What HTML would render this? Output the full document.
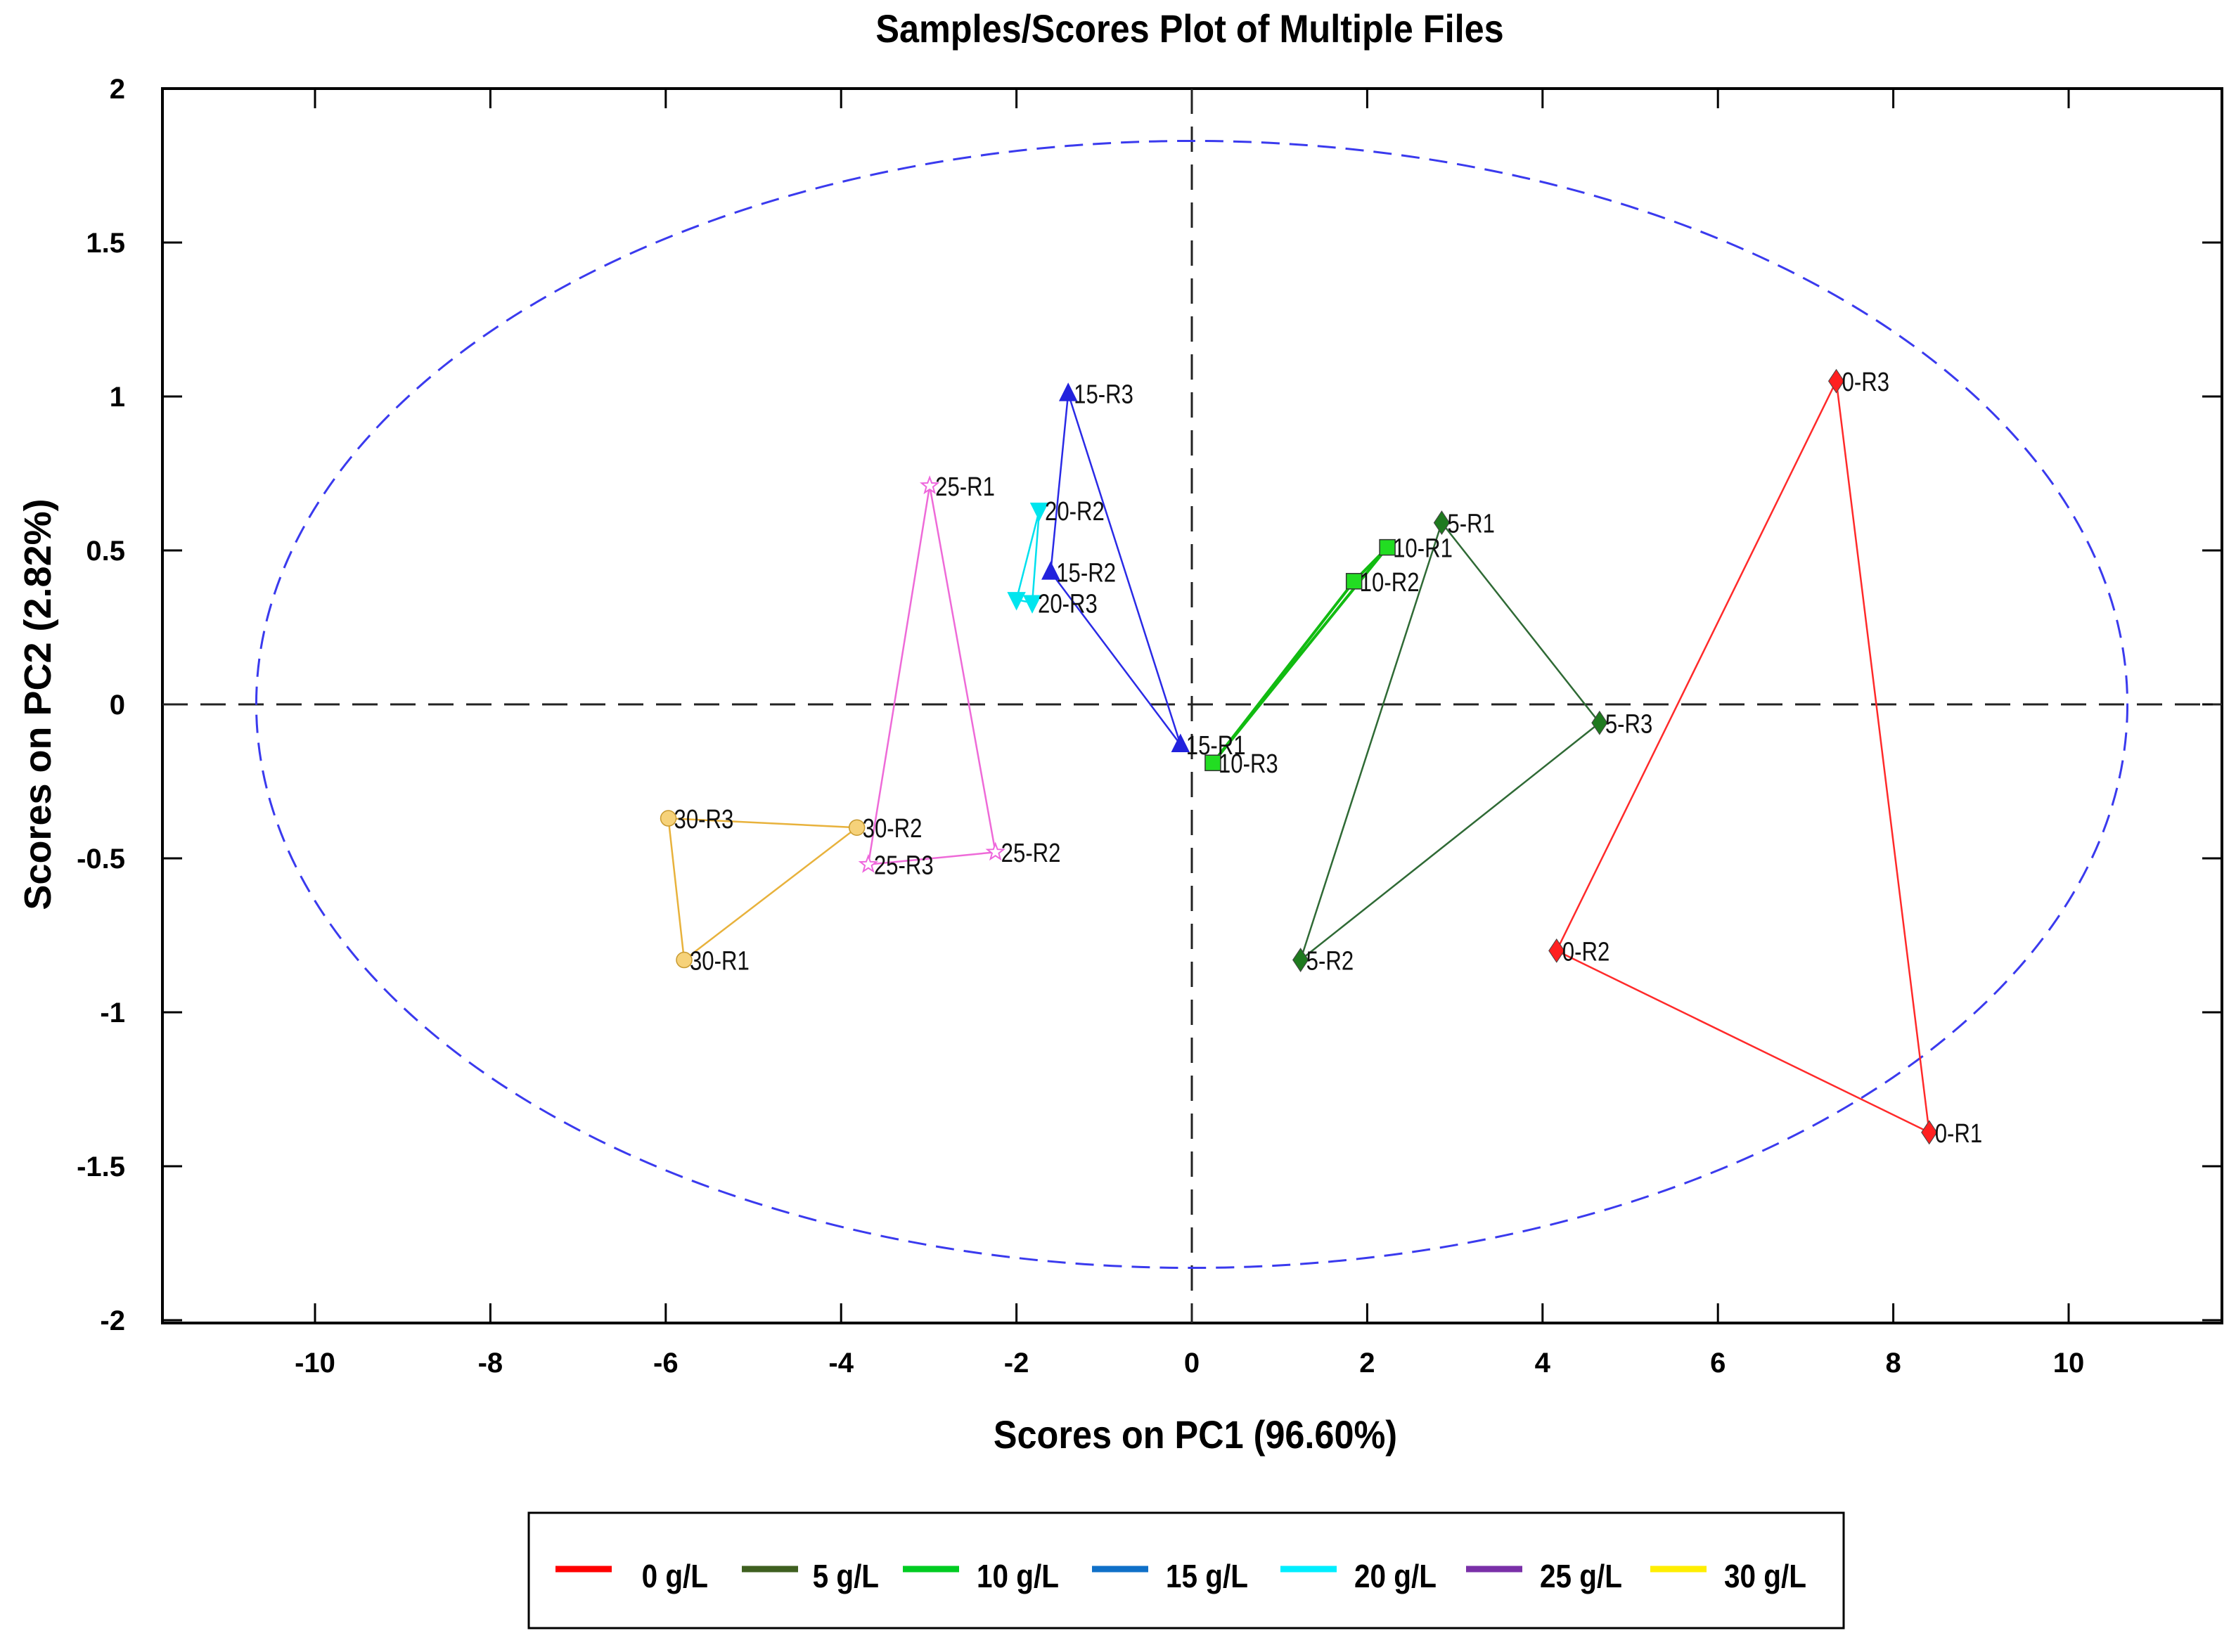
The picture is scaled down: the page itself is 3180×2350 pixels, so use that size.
<!DOCTYPE html>
<html><head><meta charset="utf-8"><style>
html,body{margin:0;padding:0;background:#fff}
svg{display:block}
text{font-family:"Liberation Sans",sans-serif}
</style></head><body>
<svg id="chart" width="3180" height="2350" viewBox="0 0 3180 2350" xmlns="http://www.w3.org/2000/svg">
<text x="1692" y="60" text-anchor="middle" font-size="56" font-weight="bold" transform="translate(1692,0) scale(0.9,1) translate(-1692,0)">Samples/Scores Plot of Multiple Files</text>
<text x="1700" y="2060" text-anchor="middle" font-size="56" font-weight="bold" transform="translate(1700,0) scale(0.9,1) translate(-1700,0)">Scores on PC1 (96.60%)</text>
<text x="0" y="0" text-anchor="middle" font-size="54" font-weight="bold" transform="translate(72,1002) rotate(-90)">Scores on PC2 (2.82%)</text>
<g id="plot"></g>
<rect x="752" y="2152" width="1870" height="164" fill="none" stroke="#000" stroke-width="3"/>
<g id="legend"></g>
</svg>
<script>
const groups = ["0 g/L","5 g/L","10 g/L","15 g/L","20 g/L","25 g/L","30 g/L"];
const groupKeys = ["0","5","10","15","20","25","30"];
const pc1 = [
 [8.41,4.16,7.35],
 [2.85,1.24,4.65],
 [2.23,1.85,0.24],
 [-0.13,-1.61,-1.41],
 [-2.0,-1.74,-1.82],
 [-2.99,-2.24,-3.69],
 [-5.79,-3.82,-5.97]
];
const pc2 = [
 [-1.39,-0.80,1.05],
 [0.59,-0.83,-0.06],
 [0.51,0.40,-0.19],
 [-0.13,0.43,1.01],
 [0.34,0.63,0.33],
 [0.71,-0.48,-0.52],
 [-0.83,-0.40,-0.37]
];
const xTicks = [-10,-8,-6,-4,-2,0,2,4,6,8,10];
const yTicks = [2,1.5,1,0.5,0,-0.5,-1,-1.5,-2];
const ellipseRx = 10.67, ellipseRy = 1.83;

const lineColors = ["#ff2a2a","#2f6a35","#11bb11","#2a2ae6","#00e0ee","#ee6ad8","#e8b23c"];
const markColors = ["#ff2020","#1f7a1f","#22dd22","#2222dd","#00e5ee","#ee66dd","#f6d27a"];
const legendColors = ["#ff0000","#3f6020","#00cc22","#1070c8","#00eeff","#7a30a8","#ffee00"];
const markers = ["diamond","diamond","square","tri","tridown","star","circle"];

const L=231,R=3160,T=126,B=1882,X0=1695,KX=124.7,Y0=1002,KY=438;
const sx=v=>X0+v*KX, sy=v=>Y0-v*KY;
const NS="http://www.w3.org/2000/svg";
const plot=document.getElementById('plot');
function mk(tag,attrs,parent){const e=document.createElementNS(NS,tag);for(const k in attrs)e.setAttribute(k,attrs[k]);(parent||plot).appendChild(e);return e;}

let fr=mk('rect',{x:L,y:T,width:R-L,height:B-T,fill:'none',stroke:'#000','stroke-width':4});


xTicks.forEach(t=>{
  mk('line',{x1:sx(t),x2:sx(t),y1:T,y2:T+28,stroke:'#000','stroke-width':3});
  mk('line',{x1:sx(t),x2:sx(t),y1:B,y2:B-28,stroke:'#000','stroke-width':3});
  let tx=mk('text',{x:sx(t),y:1952,'text-anchor':'middle','font-size':40,'font-weight':'bold'});
  tx.textContent=t;
  
  
});
yTicks.forEach(t=>{
  mk('line',{x1:L,x2:L+28,y1:sy(t),y2:sy(t),stroke:'#000','stroke-width':3});
  mk('line',{x1:R,x2:R-28,y1:sy(t),y2:sy(t),stroke:'#000','stroke-width':3});
  let tx=mk('text',{x:178,y:sy(t)+14,'text-anchor':'end','font-size':40,'font-weight':'bold'});
  tx.textContent=t;
  
  
});
let zx=mk('line',{x1:L,x2:R,y1:sy(0),y2:sy(0),stroke:'#222','stroke-width':3,'stroke-dasharray':'36 18'});


let zy=mk('line',{x1:sx(0),x2:sx(0),y1:T,y2:B,stroke:'#222','stroke-width':3,'stroke-dasharray':'36 18'});


let el=mk('ellipse',{cx:sx(0),cy:sy(0),rx:ellipseRx*KX,ry:ellipseRy*KY,fill:'none',stroke:'#3a3aee','stroke-width':3,'stroke-dasharray':'26 14'});



function marker(type,x,y,c){
  const s=11;
  if(type==='diamond') return mk('polygon',{points:`${x},${y-s*1.5} ${x+s},${y} ${x},${y+s*1.5} ${x-s},${y}`,fill:c,stroke:'#444','stroke-width':1});
  if(type==='square') return mk('rect',{x:x-s,y:y-s,width:2*s,height:2*s,fill:c,stroke:'#333','stroke-width':1.5});
  if(type==='tri') return mk('polygon',{points:`${x},${y-s*1.4} ${x+s*1.2},${y+s} ${x-s*1.2},${y+s}`,fill:c});
  if(type==='tridown') return mk('polygon',{points:`${x-s*1.2},${y-s} ${x+s*1.2},${y-s} ${x},${y+s*1.4}`,fill:c});
  if(type==='circle') return mk('circle',{cx:x,cy:y,r:s,fill:c,stroke:'#c89a30','stroke-width':1.5});
  let p=[];for(let i=0;i<10;i++){const a=-Math.PI/2+i*Math.PI/5,r=i%2?5:12;p.push((x+r*Math.cos(a))+','+(y+r*Math.sin(a)));}
  return mk('polygon',{points:p.join(' '),fill:'#fff',stroke:c,'stroke-width':2});
}
groups.forEach((g,gi)=>{
  const xs=pc1[gi],ys=pc2[gi];
  const pts=xs.map((v,i)=>sx(v)+','+sy(ys[i]));
  let pl=mk('polygon',{points:pts.join(' '),fill:'none',stroke:lineColors[gi],'stroke-width':gi===2?4:2.5});
  
  
  xs.forEach((v,i)=>{
    let m=marker(markers[gi],sx(v),sy(ys[i]),markColors[gi]);
    
    
    if(gi===4 && i===0) return;
    let t=mk('text',{x:sx(v)+8,y:sy(ys[i])+14,'font-size':38,fill:'#111',transform:`translate(${sx(v)+8},0) scale(0.82,1) translate(${-(sx(v)+8)},0)`});
    t.textContent=groupKeys[gi]+'-R'+(i+1);
    
    
  });
});
const lg=document.getElementById('legend');
const legLineX=[790,1055,1284,1553,1821,2085,2347];
groups.forEach((g,gi)=>{
  const x=legLineX[gi];
  let ln=mk('line',{x1:x,x2:x+80,y1:2232,y2:2232,stroke:legendColors[gi],'stroke-width':9},lg);
  
  
  let t=mk('text',{x:x+(gi===0?125:gi===1?100:105),y:2258,'font-size':46,'font-weight':'bold',transform:`translate(${x+105},0) scale(0.88,1) translate(${-(x+105)},0)`},lg);
  t.textContent=g;
  
  
});
</script>
</body></html>
